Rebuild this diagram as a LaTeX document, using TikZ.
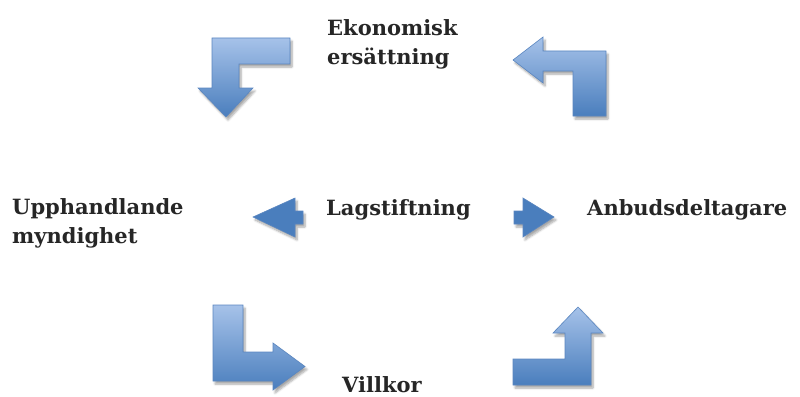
\documentclass[tikz,border=0pt]{standalone}
\usepackage{fontspec}
\setmainfont{DejaVu Serif}
\usetikzlibrary{shadows.blur}
\definecolor{pilLjus}{HTML}{A6C2E9}
\definecolor{pilMork}{HTML}{4A7EBD}
\definecolor{pilKant}{HTML}{5A86C0}
\definecolor{textGra}{HTML}{262626}
\begin{document}
\begin{tikzpicture}[x=1pt,y=-1pt,
	pil/.style={draw=pilKant,line width=0.6pt,top color=pilLjus,bottom color=pilMork,
		blur shadow={shadow xshift=2pt,shadow yshift=-3pt,shadow blur steps=6,shadow opacity=35}},
	pilfast/.style={fill=pilMork,draw=pilKant,line width=0.6pt,
		blur shadow={shadow xshift=2pt,shadow yshift=-3pt,shadow blur steps=6,shadow opacity=35}},
	etikett/.style={font=\bfseries\fontsize{21}{29}\selectfont,text=textGra,inner sep=0pt,
		align=left,anchor=base west}]
	\useasboundingbox (0,0) rectangle (800,396);
	
	% 绘制文字（多行节点的 base 在最后一行）
	\node[etikett] (ersattning) at (327,65) {Ekonomisk\\ersättning};
	\node[etikett] (myndighet) at (12,243) {Upphandlande\\myndighet};
	\node[etikett] (lag) at (326,215) {Lagstiftning};
	\node[etikett] (anbud) at (587,215) {Anbudsdeltagare};
	\node[etikett] (villkor) at (342,392) {Villkor};
	
	% 绘制上左箭头
	\draw[pil] (212,38) -- (290,38) -- (290,64) -- (239,64) -- (239,88) -- (253,88)
		-- (226,117) -- (198,88) -- (212,88) -- cycle;
	
	% 绘制上右箭头
	\draw[pil] (606,116) -- (573,116) -- (573,71) -- (543,71) -- (543,83) -- (513,60)
		-- (543,37) -- (543,51) -- (606,51) -- cycle;
	
	% 绘制下左箭头
	\draw[pil] (213,305) -- (243,305) -- (243,352) -- (273,352) -- (273,343) -- (305,366.5)
		-- (273,390) -- (273,381) -- (213,381) -- cycle;
	
	% 绘制下右箭头
	\draw[pil] (513,359) -- (565,359) -- (565,333) -- (553,333) -- (578,307) -- (603,333)
		-- (591,333) -- (591,385) -- (513,385) -- cycle;
	
	% 绘制中间的两个箭头
	\draw[pilfast] (253,217) -- (295,198) -- (295,211) -- (303,211) -- (303,224)
		-- (295,224) -- (295,237) -- cycle;
	\draw[pilfast] (554,217) -- (523,237) -- (523,224) -- (514,224) -- (514,211)
		-- (523,211) -- (523,198) -- cycle;
\end{tikzpicture}
\end{document}
